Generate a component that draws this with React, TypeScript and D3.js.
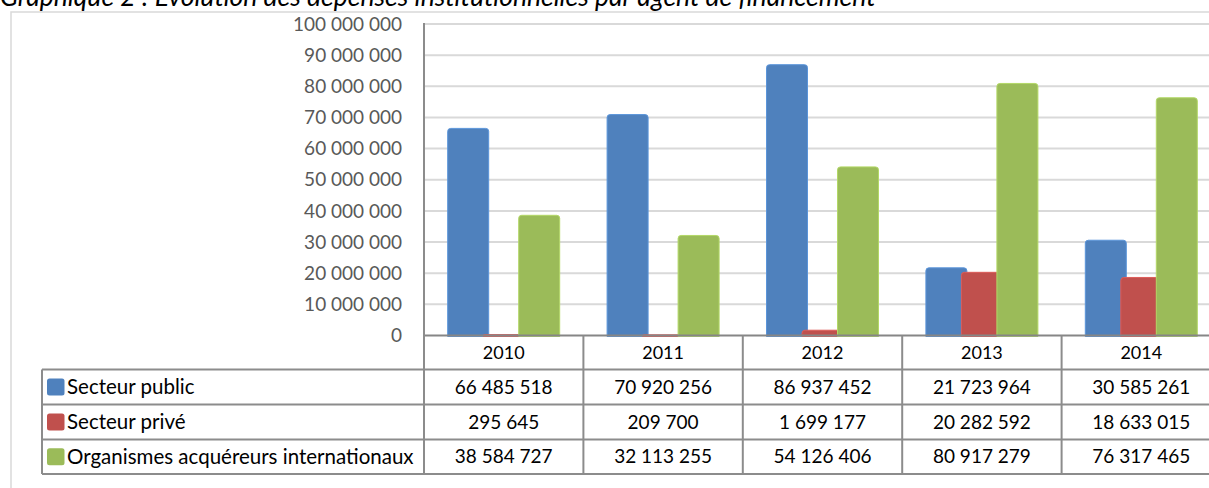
import React from "react";
import * as d3 from "d3";

const years = ["2010", "2011", "2012", "2013", "2014"];
const seriesNames = ["Secteur public", "Secteur privé", "Organismes acquéreurs internationaux"];
const secteurPublic = [66485518, 70920256, 86937452, 21723964, 30585261];
const secteurPrive = [295645, 209700, 1699177, 20282592, 18633015];
const organismesInternationaux = [38584727, 32113255, 54126406, 80917279, 76317465];
const seriesColors = ["#4F81BD", "#C0504D", "#9BBB59"];
const yTicks = [0, 10000000, 20000000, 30000000, 40000000, 50000000, 60000000, 70000000, 80000000, 90000000, 100000000];
const title = "Graphique 2 : Évolution des dépenses institutionnelles par agent de financement";

const seriesValues = [secteurPublic, secteurPrive, organismesInternationaux];

const W = 1209;
const H = 488;
const FONT = "Lato, 'Open Sans', sans-serif";

const locale = d3.formatLocale({ decimal: ",", thousands: "\u00a0", grouping: [3], currency: ["", " €"] });
const fmt = locale.format(",d");

function topRoundedBar(x: number, y: number, w: number, h: number, r: number) {
  const rr = Math.min(r, h / 2, w / 2);
  const p = d3.path();
  p.moveTo(x, y + h);
  p.lineTo(x, y + rr);
  p.quadraticCurveTo(x, y, x + rr, y);
  p.lineTo(x + w - rr, y);
  p.quadraticCurveTo(x + w, y, x + w, y + rr);
  p.lineTo(x + w, y + h);
  p.closePath();
  return p.toString();
}

export default function App() {
  const plotLeft = 424;
  const catWidth = 159.4;
  const plotRight = plotLeft + catWidth * years.length;
  const x = d3.scaleBand<string>().domain(years).range([plotLeft, plotRight]).padding(0);
  const y = d3.scaleLinear().domain([0, 100000000]).range([335.5, 24]);

  const barW = 41;
  const groupW = 112;
  const inner = d3.scaleLinear().domain([0, seriesNames.length - 1]).range([-groupW / 2, groupW / 2 - barW]);

  const headerTop = y(0);
  const rowLines = [369.5, 404.5, 439.5, 474];
  const tableLeft = 42;
  const lineColor = "#8c8c8c";

  return (
    <svg width={W} height={H} style={{ position: "absolute", left: 0, top: 0, background: "#fff" }} fontFamily={FONT}>
      {/* chart frame */}
      <rect x={11} y={12} width={W + 20} height={H + 20} fill="#fff" stroke="#d9d9d9" strokeWidth={1.5} />
      {/* title */}
      <text x={0} y={5.5} fontSize={26.5} fontStyle="italic" fill="#000">{title}</text>

      {/* gridlines */}
      {yTicks.filter(t => t > 0).map(t => (
        <line key={t} x1={plotLeft} x2={plotRight} y1={y(t)} y2={y(t)} stroke="#d9d9d9" strokeWidth={2} />
      ))}
      {/* y tick labels */}
      {yTicks.map(t => (
        <text key={"l" + t} x={402} y={y(t)} dy="0.35em" textAnchor="end" fontSize={19} fill="#595959">{fmt(t)}</text>
      ))}

      {/* bars */}
      {years.map((yr, i) => {
        const cx = (x(yr) as number) + x.bandwidth() / 2;
        return (
          <g key={yr}>
            {seriesValues.map((vals, s) => {
              const top = y(vals[i]);
              const h = y(0) + 1 - top;
              return (
                <path key={s} d={topRoundedBar(cx + inner(s), top, barW, h, 3)} fill={seriesColors[s]}
                  stroke={d3.color(seriesColors[s])!.brighter(0.4).toString()} strokeWidth={1} />
              );
            })}
          </g>
        );
      })}

      {/* axis line */}
      <line x1={plotLeft} x2={plotRight} y1={y(0)} y2={y(0)} stroke="#868686" strokeWidth={2} />
      <line x1={plotLeft} x2={plotLeft} y1={y(100000000) - 1} y2={rowLines[3]} stroke={lineColor} strokeWidth={2} />

      {/* table grid */}
      {years.map((yr) => (
        <line key={"v" + yr} x1={(x(yr) as number) + catWidth} x2={(x(yr) as number) + catWidth}
          y1={headerTop} y2={rowLines[3]} stroke={lineColor} strokeWidth={2} />
      ))}
      {rowLines.map(ry => (
        <line key={"h" + ry} x1={tableLeft} x2={plotRight} y1={ry} y2={ry} stroke={lineColor} strokeWidth={2} />
      ))}
      <line x1={tableLeft} x2={tableLeft} y1={rowLines[0]} y2={rowLines[3]} stroke={lineColor} strokeWidth={2} />

      {/* header years */}
      {years.map(yr => (
        <text key={"y" + yr} x={(x(yr) as number) + catWidth / 2} y={(headerTop + rowLines[0]) / 2} dy="0.35em"
          textAnchor="middle" fontSize={18} fill="#000">{yr}</text>
      ))}

      {/* rows */}
      {seriesNames.map((name, s) => {
        const rc = (rowLines[s] + rowLines[s + 1]) / 2;
        return (
          <g key={name}>
            <rect x={47} y={rc - 8.5} width={17.5} height={17} rx={2.5} fill={seriesColors[s]} />
            <text x={67} y={rc} dy="0.35em" fontSize={20.5} fill="#000">{name}</text>
            {years.map((yr, i) => (
              <text key={yr} x={(x(yr) as number) + catWidth / 2} y={rc} dy="0.35em" textAnchor="middle"
                fontSize={19} fill="#000">{fmt(seriesValues[s][i])}</text>
            ))}
          </g>
        );
      })}
    </svg>
  );
}
